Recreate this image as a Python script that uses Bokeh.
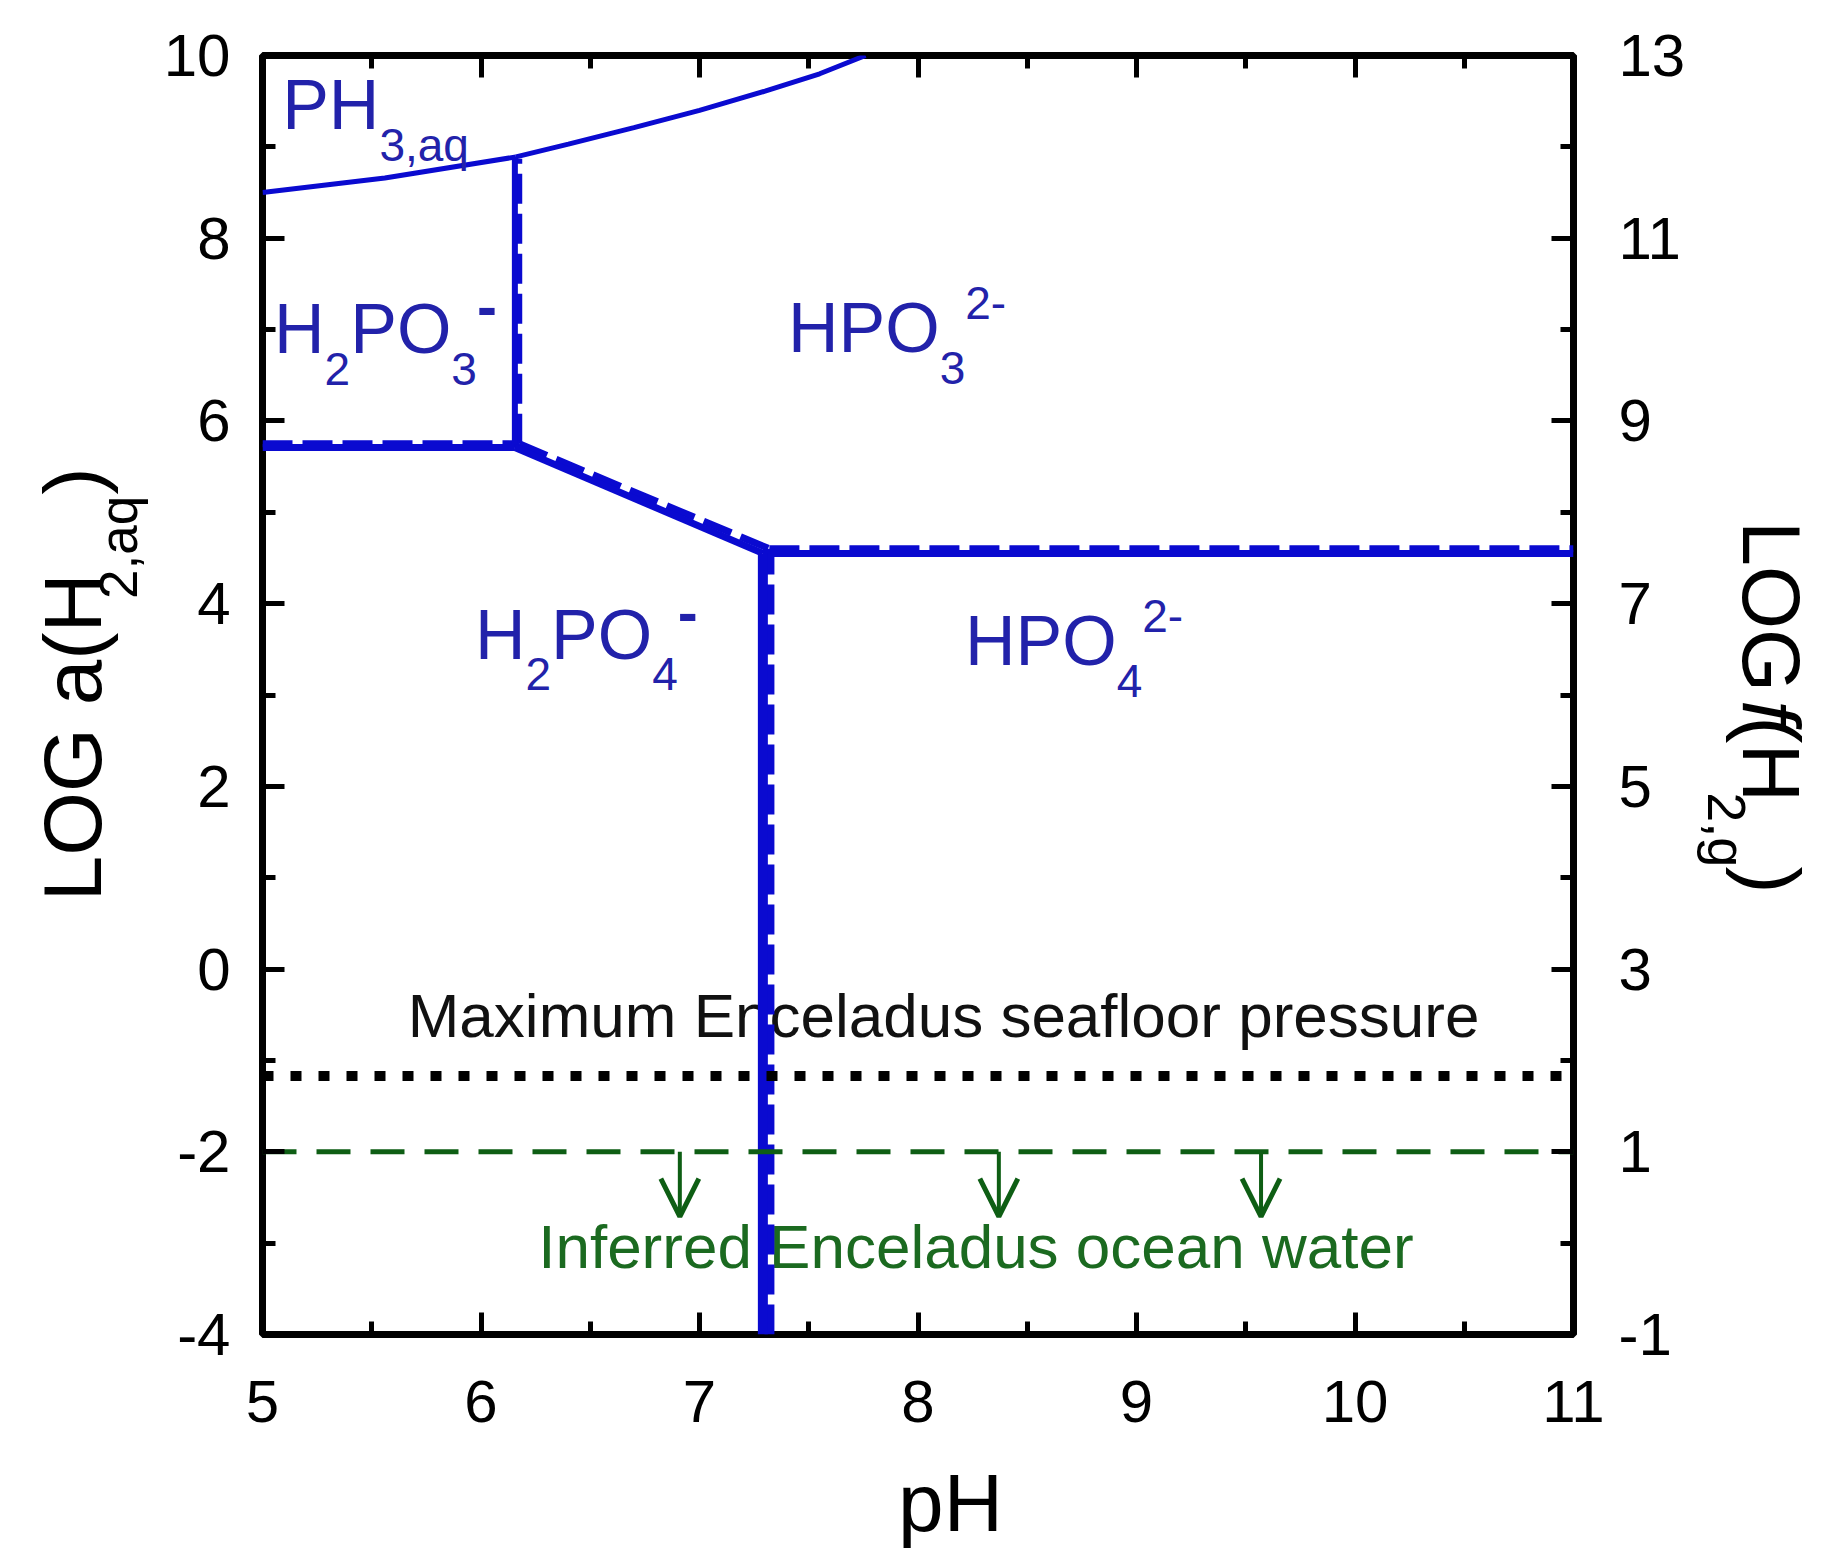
import math
from bokeh.plotting import figure
from bokeh.layouts import row, column
from bokeh.models import (Range1d, LinearAxis, FixedTicker, Label, Arrow, OpenHead,
                          ColumnDataSource)
from bokeh.core.properties import value
from bokeh.embed import file_html
from bokeh.resources import INLINE

# ---------------- data ----------------
ph_range = [5.0, 11.0]
log_h2aq_range = [-4.0, 10.0]
log_fh2g_range = [-1.0, 13.0]

ph_ticks = [5, 6, 7, 8, 9, 10, 11]
ph_minor = [5.5, 6.5, 7.5, 8.5, 9.5, 10.5]
log_h2aq_ticks = [-4, -2, 0, 2, 4, 6, 8, 10]
log_h2aq_minor = [-3, -1, 1, 3, 5, 7, 9]
log_fh2g_ticks = [-1, 1, 3, 5, 7, 9, 11, 13]
log_fh2g_minor = [0, 2, 4, 6, 8, 10, 12]

# PH3,aq stability boundaries (thin lines)
ph3_h2po3_ph = [5.00, 5.56, 6.16]
ph3_h2po3_logh2 = [8.50, 8.66, 8.89]
ph3_hpo3_ph = [6.16, 6.40, 6.70, 7.00, 7.30, 7.55, 7.76]
ph3_hpo3_logh2 = [8.89, 9.03, 9.21, 9.40, 9.61, 9.80, 10.00]

# phosphite / phosphate boundaries, solid set
solid_ph = [[6.155, 6.155], [5.0, 6.155], [6.155, 7.29], [7.29, 11.0], [7.29, 7.29]]
solid_logh2 = [[5.71, 8.89], [5.71, 5.71], [5.71, 4.55], [4.55, 4.55], [-4.0, 4.55]]
# same boundaries, dashed set
dashed_ph = [[6.175, 6.175], [5.0, 6.175], [6.175, 7.32], [7.32, 11.0], [7.32, 7.32]]
dashed_logh2 = [[5.75, 8.87], [5.75, 5.75], [5.75, 4.60], [4.60, 4.60], [-4.0, 4.60]]

max_seafloor_logh2 = -1.17
ocean_water_logh2 = -2.0
arrow_ph = [6.91, 8.37, 9.57]
arrow_tip_logh2 = -2.71

# ---------------- styling ----------------
FONT = "Liberation Sans"
BLUE_LINE = "#0a0ad0"
BLUE_TXT = "#2222aa"
GREEN = "#0e5e14"
GREEN_TXT = "#1b6a20"
MID = 0.3465        # box middle above baseline, in em

LW = 153            # left title strip
RW = 139            # right title strip
BL, BR, BT, BB = 109, 116, 55, 118
FW, FH = 1311, 1279
PW = BL + FW + BR
PH = BT + FH + BB
BOTH = 100          # bottom title strip
TOTW = LW + PW + RW
PXX = FW / (ph_range[1] - ph_range[0])
PXY = FH / (log_h2aq_range[1] - log_h2aq_range[0])

ADV = {"P": .667, "H": .722, "O": .778, "2": .556, "3": .556, "4": .556, ",": .278,
       "a": .556, "q": .556, "-": .333, "L": .556, "G": .778, " ": .278, "(": .333,
       ")": .333, "f": .278, "g": .556, "p": .556}


def tw(s, size):
    return sum(ADV[c] for c in s) * size


p = figure(width=PW, height=PH, output_backend="svg", toolbar_location=None,
           x_range=Range1d(*ph_range), y_range=Range1d(*log_h2aq_range),
           min_border_left=BL, min_border_right=BR, min_border_top=BT,
           min_border_bottom=BB, title=None)
p.extra_y_ranges = {"fug": Range1d(*log_fh2g_range)}
p.grid.visible = False
p.outline_line_color = "black"
p.outline_line_width = 7
p.background_fill_color = "white"
p.border_fill_color = "white"


def style(ax, size="60px"):
    ax.axis_line_color = None
    ax.major_tick_in = 22
    ax.major_tick_out = 0
    ax.minor_tick_in = 13
    ax.minor_tick_out = 0
    ax.major_tick_line_width = 5
    ax.minor_tick_line_width = 5
    ax.major_tick_line_color = "black"
    ax.minor_tick_line_color = "black"
    ax.major_label_text_font = FONT
    ax.major_label_text_font_size = size
    ax.major_label_text_color = "black"


xb = p.xaxis[0]
xb.ticker = FixedTicker(ticks=ph_ticks, minor_ticks=ph_minor)
style(xb)
xb.major_label_standoff = 46

yl = p.yaxis[0]
yl.ticker = FixedTicker(ticks=log_h2aq_ticks, minor_ticks=log_h2aq_minor)
style(yl)
yl.major_label_standoff = 32
yl.major_label_overrides = {t: str(t) for t in log_h2aq_ticks}

xt = LinearAxis(ticker=FixedTicker(ticks=ph_ticks, minor_ticks=ph_minor))
style(xt, "10px")
xt.major_label_overrides = {t: "" for t in ph_ticks}
p.add_layout(xt, "above")

yr = LinearAxis(y_range_name="fug",
                ticker=FixedTicker(ticks=log_fh2g_ticks, minor_ticks=log_fh2g_minor))
style(yr)
yr.major_label_standoff = 45
yr.major_label_overrides = {t: str(t) for t in log_fh2g_ticks}
p.add_layout(yr, "right")


def mid_y(y_base, size):
    return y_base + MID * size / PXY


# ---------------- in-plot notes (under the lines) ----------------
p.add_layout(Label(x=8.117, y=mid_y(-0.74, 62), text="Maximum Enceladus seafloor pressure",
                   text_font=FONT, text_font_size="62px", text_color="#111111",
                   text_align="center", text_baseline="middle", level="underlay"))
p.add_layout(Label(x=8.265, y=mid_y(-3.27, 62), text="Inferred Enceladus ocean water",
                   text_font=FONT, text_font_size="62px", text_color=GREEN_TXT,
                   text_align="center", text_baseline="middle", level="underlay"))

# ---------------- lines ----------------
p.line(ph3_h2po3_ph, ph3_h2po3_logh2, line_color=BLUE_LINE, line_width=5)
p.line(ph3_hpo3_ph, ph3_hpo3_logh2, line_color=BLUE_LINE, line_width=5)

widths = [6, 7, 7, 7, 10]
p.multi_line(xs=dashed_ph, ys=dashed_logh2, line_color=BLUE_LINE,
             line_width=widths, line_dash="30 10")
p.multi_line(xs=solid_ph, ys=solid_logh2, line_color=BLUE_LINE, line_width=widths)

p.line(ph_range, [max_seafloor_logh2] * 2, line_color="black", line_width=10,
       line_dash="11 17")
p.line(ph_range, [ocean_water_logh2] * 2, line_color=GREEN, line_width=5,
       line_dash="34 20")

arr_src = ColumnDataSource(dict(x0=arrow_ph, y0=[ocean_water_logh2] * len(arrow_ph),
                                x1=arrow_ph, y1=[arrow_tip_logh2] * len(arrow_ph)))
p.add_layout(Arrow(end=OpenHead(size=38, line_width=5, line_color=GREEN),
                   x_start="x0", y_start="y0", x_end="x1", y_end="y1",
                   line_color=GREEN, line_width=4, source=arr_src))

# ---------------- species labels ----------------
KIND = {"n": (70, 0, "normal"), "b": (46, -31, "normal"),
        "p": (46, 34, "normal"), "m": (60, 26, "bold")}


def chem(x0, y0, parts):
    x = x0
    for txt, kind in parts:
        size, dy, st = KIND[kind]
        p.add_layout(Label(x=x, y=y0 + (dy + MID * size) / PXY, text=txt, text_font=FONT,
                           text_font_size=f"{size}px", text_font_style=st,
                           text_color=BLUE_TXT, text_align="left",
                           text_baseline="middle"))
        x += tw(txt, size) / PXX


chem(5.090, 9.190, [("PH", "n"), ("3,aq", "b")])
chem(5.053, 6.738, [("H", "n"), ("2", "b"), ("PO", "n"), ("3", "b"), ("-", "m")])
chem(7.405, 6.749, [("HPO", "n"), ("3", "b"), ("2-", "p")])
chem(5.9725, 3.396, [("H", "n"), ("2", "b"), ("PO", "n"), ("4", "b"), ("-", "m")])
chem(8.215, 3.323, [("HPO", "n"), ("4", "b"), ("2-", "p")])


# ---------------- title strips ----------------
def strip(w, h):
    f = figure(width=w, height=h, output_backend="svg", toolbar_location=None,
               x_range=Range1d(0, w), y_range=Range1d(h, 0), min_border=0,
               x_axis_location=None, y_axis_location=None, title=None)
    f.outline_line_color = None
    f.grid.visible = False
    f.background_fill_color = "white"
    f.border_fill_color = "white"
    return f


def vtitle(f, xbase, y0, parts, angle, sub_dx):
    # upward reading (angle>0): text runs toward smaller y, glyph "up" is -x
    d = -1 if angle > 0 else 1
    y = y0
    for txt, size, kind, st in parts:
        if kind == "gap":
            y += d * size
            continue
        shown = txt.rstrip()
        L = tw(txt, size)
        Ls = tw(shown, size)
        xb_ = xbase + (sub_dx if kind == "b" else 0)
        xm = xb_ + d * MID * size          # middle of the text box
        ym = y + d * Ls / 2
        f.text(x=[xm], y=[ym], text=[shown], angle=angle, text_font=value(FONT),
               text_font_size=f"{size}px", text_font_style=st, text_color="black",
               text_align="center", text_baseline="middle")
        y += d * L


left = strip(LW, PH)
vtitle(left, 100, 938,
       [("LOG a(H", 82, "n", "normal"), ("2,aq", 53, "b", "normal"),
        ("", 10, "gap", ""), (")", 82, "n", "normal")],
       math.pi / 2, 36)

right = strip(RW, PH)
vtitle(right, 1742 - (LW + PW), 540,
       [("LOG ", 81, "n", "normal"), ("f", 81, "n", "italic"), ("(H", 81, "n", "normal"),
        ("2,g", 54, "b", "normal"), ("", 6, "gap", ""), (")", 81, "n", "normal")],
       -math.pi / 2, -34)

bottom = strip(TOTW, BOTH)
bottom.text(x=[950], y=[1530 - PH - MID * 82], text=["pH"], text_font=value(FONT),
            text_font_size="82px", text_color="black", text_align="center",
            text_baseline="middle")

layout = column(row(left, p, right, spacing=0), bottom, spacing=0)
open("out.html", "w").write(file_html(layout, INLINE))
